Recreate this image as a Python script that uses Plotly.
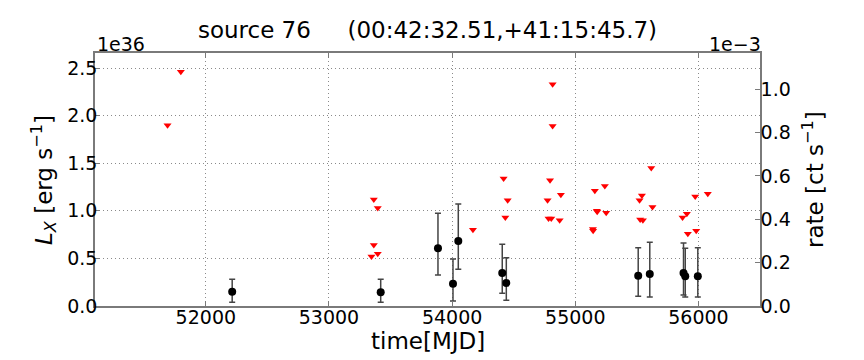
import plotly.graph_objects as go

# upper limits (red triangles), L_X in units of 1e36 erg/s
lim_mjd = [51689, 51797, 53345, 53364, 53364, 53396, 53396, 54169, 54418, 54432,
           54451, 54775, 54783, 54795, 54805, 54816, 54816, 54873, 54883, 55143,
           55145, 55159, 55175, 55178, 55240, 55251, 55522, 55527, 55541, 55549,
           55617, 55627, 55871, 55906, 55914, 55974, 55982, 56076]
lim_lx = [1.90, 2.46, 0.52, 0.64, 1.12, 0.55, 1.03, 0.80, 1.34, 0.93,
          1.11, 1.11, 0.92, 1.32, 0.92, 2.33, 1.89, 0.90, 1.17, 0.81,
          0.79, 1.21, 1.00, 0.99, 1.26, 0.98, 1.11, 0.91, 1.16, 0.90,
          1.45, 1.04, 0.93, 0.97, 0.76, 1.15, 0.79, 1.18]

# detections with error bars
det_mjd = [52214, 53420, 53885, 54007, 54050, 54407, 54440, 55511, 55605, 55879, 55893, 55995]
det_lx = [0.150, 0.144, 0.606, 0.234, 0.683, 0.347, 0.242, 0.319, 0.336, 0.347, 0.312, 0.312]
det_hi = [0.280, 0.280, 0.974, 0.494, 1.071, 0.648, 0.508, 0.613, 0.669, 0.662, 0.606, 0.613]
det_lo = [0.039, 0.039, 0.326, 0.052, 0.385, 0.133, 0.060, 0.102, 0.095, 0.116, 0.095, 0.095]

x_range = [51100, 56500]
lx_range = [0, 2.658]
rate_range = [0, 1.1676]
x_ticks = [52000, 53000, 54000, 55000, 56000]
lx_ticks = [0.0, 0.5, 1.0, 1.5, 2.0, 2.5]
rate_ticks = [0.0, 0.2, 0.4, 0.6, 0.8, 1.0]

FONT = "DejaVu Sans"
SPINE = "#7a7a7a"
GRID = "#8a8a8a"

fig = go.Figure()

fig.add_trace(go.Scatter(
    x=lim_mjd, y=lim_lx, mode="markers",
    marker=dict(symbol="triangle-down", color="red", size=7, line=dict(width=0)),
    showlegend=False))

fig.add_trace(go.Scatter(
    x=det_mjd, y=det_lx, mode="markers",
    marker=dict(symbol="circle", color="black", size=8),
    error_y=dict(type="data", symmetric=False,
                 array=[h - v for h, v in zip(det_hi, det_lx)],
                 arrayminus=[v - l for l, v in zip(det_lo, det_lx)],
                 color="#444444", thickness=1.5, width=3),
    showlegend=False))

# right axis carries only the count-rate scale
fig.add_trace(go.Scatter(x=[None], y=[None], yaxis="y2", showlegend=False, hoverinfo="skip"))

axis_common = dict(showline=True, linecolor=SPINE, linewidth=1.5, ticks="inside",
                   tickcolor=SPINE, ticklen=5, zeroline=False,
                   tickfont=dict(family=FONT, size=19, color="black"))

fig.update_layout(
    width=864, height=360,
    paper_bgcolor="white", plot_bgcolor="white",
    margin=dict(l=95, r=104, t=53, b=54),
    font=dict(family=FONT, color="black"),
    title=dict(text="source 76" + "\u00a0" * 5 + "(00:42:32.51,+41:15:45.7)",
               xref="paper", x=0.5, xanchor="center", y=0.917, yanchor="middle",
               font=dict(family=FONT, size=23)),
    xaxis=dict(range=x_range, tickvals=x_ticks, tickformat="d", mirror="ticks",
               ticklabelstandoff=-7,
               showgrid=True, gridcolor=GRID, griddash="1px,3px", gridwidth=1,
               **axis_common),
    yaxis=dict(range=lx_range, tickvals=lx_ticks, tickformat=".1f",
               ticklabelstandoff=-8,
               showgrid=True, gridcolor=GRID, griddash="1px,3px", gridwidth=1,
               **axis_common),
    yaxis2=dict(range=rate_range, tickvals=rate_ticks, tickformat=".1f",
                ticklabelstandoff=-5,
                overlaying="y", side="right", showgrid=False,
                **axis_common),
    annotations=[
        dict(text="1e36", x=0, y=1, xref="paper", yref="paper", xanchor="left",
             yanchor="bottom", yshift=-4, showarrow=False, font=dict(family=FONT, size=19)),
        dict(text="1e\u22123", x=1.005, y=1, xref="paper", yref="paper", xanchor="right",
             yanchor="bottom", yshift=-4, showarrow=False, font=dict(family=FONT, size=19)),
        dict(text="time[MJD]", x=0.5, y=-0.138, xref="paper", yref="paper",
             xanchor="center", yanchor="middle", showarrow=False,
             font=dict(family=FONT, size=23)),
        dict(text="<i>L</i><sub><i>X</i></sub> [erg s<sup>\u22121</sup>]",
             x=-0.0782, y=0.498, xref="paper", yref="paper", textangle=-90,
             xanchor="center", yanchor="middle", showarrow=False,
             font=dict(family=FONT, size=23)),
        dict(text="rate [ct s<sup>\u22121</sup>]",
             x=1.0797, y=0.498, xref="paper", yref="paper", textangle=-90,
             xanchor="center", yanchor="middle", showarrow=False,
             font=dict(family=FONT, size=23)),
    ],
)

# drop the page's default body margin so the figure sits at the window origin
fig.write_html("out.html", config={"displayModeBar": False},
               post_script="document.body.style.margin='0';")
